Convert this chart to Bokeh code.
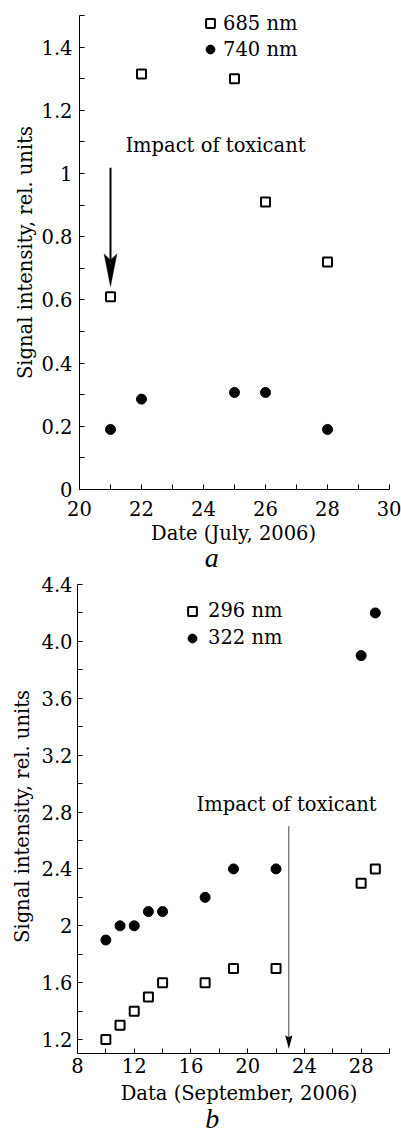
import math
from bokeh.plotting import figure
from bokeh.models import (FixedTicker, CustomJSTickFormatter, Range1d, Legend,
                          LegendItem, Label, Arrow, PolyAnnotation)
from bokeh.layouts import column
from bokeh.embed import file_html
from bokeh.resources import INLINE

# ---------------- data: panel a ----------------
a_days = [21, 22, 25, 26, 28]
a_685 = [0.61, 1.315, 1.30, 0.91, 0.72]
a_740 = [0.19, 0.286, 0.307, 0.307, 0.19]
a_x_ticks = [20, 22, 24, 26, 28, 30]
a_x_labels = ["20", "22", "24", "26", "28", "30"]
a_x_minor = [21, 23, 25, 27, 29]
a_y_ticks = [0, 0.2, 0.4, 0.6, 0.8, 1.0, 1.2, 1.4]
a_y_labels = ["0", "0.2", "0.4", "0.6", "0.8", "1", "1.2", "1.4"]
a_y_minor = [0.1, 0.3, 0.5, 0.7, 0.9, 1.1, 1.3, 1.5]
a_series = ["685 nm", "740 nm"]

# ---------------- data: panel b ----------------
b_days = [10, 11, 12, 13, 14, 17, 19, 22, 28, 29]
b_296 = [1.2, 1.3, 1.4, 1.5, 1.6, 1.6, 1.7, 1.7, 2.3, 2.4]
b_322 = [1.9, 2.0, 2.0, 2.1, 2.1, 2.2, 2.4, 2.4, 3.9, 4.2]
b_x_ticks = [8, 12, 16, 20, 24, 28]
b_x_labels = ["8", "12", "16", "20", "24", "28"]
b_x_minor = [10, 14, 18, 22, 26, 30]
b_y_ticks = [1.2, 1.6, 2.0, 2.4, 2.8, 3.2, 3.6, 4.0, 4.4]
b_y_labels = ["1.2", "1.6", "2", "2.4", "2.8", "3.2", "3.6", "4.0", "4.4"]
b_y_minor = [1.4, 1.8, 2.2, 2.6, 3.0, 3.4, 3.8, 4.2]
b_series = ["296 nm", "322 nm"]

FONT = "DejaVu Serif"
FS = "19.5px"
W = 401


def fmt(ticks, labels):
    return CustomJSTickFormatter(args=dict(t=ticks, l=labels), code="""
        for (let i = 0; i < t.length; i++) {
            if (Math.abs(t[i] - tick) < 1e-6) { return l[i]; }
        }
        return '';
    """)


def span_range(v0, v1, p0, p1, total):
    scale = (p1 - p0) / (v1 - v0)
    return Range1d(v0 - p0 / scale, v1 + (total - p1) / scale)


def make_panel(H, xlim, ylim, xpix, ypix, xt, xl, xm, yt, yl, ym, x_std, y_std):
    p = figure(width=W, height=H, output_backend="svg", toolbar_location=None,
               x_range=span_range(xlim[0], xlim[1], xpix[0], xpix[1], W),
               y_range=span_range(ylim[0], ylim[1], ypix[0], ypix[1], H),
               min_border_left=0, min_border_right=0, min_border_top=0,
               min_border_bottom=0)
    p.xgrid.visible = False
    p.ygrid.visible = False
    p.outline_line_color = None
    p.background_fill_color = "white"
    p.border_fill_color = "white"
    xa, ya = p.xaxis[0], p.yaxis[0]
    xa.fixed_location = ylim[0]
    ya.fixed_location = xlim[0]
    xa.bounds = xlim
    ya.bounds = ylim
    for ax in (xa, ya):
        ax.axis_line_color = "black"
        ax.axis_line_width = 1
        ax.major_tick_in = 5
        ax.major_tick_out = 0
        ax.minor_tick_in = 5
        ax.minor_tick_out = 0
        ax.major_tick_line_color = "black"
        ax.minor_tick_line_color = "black"
        ax.major_label_text_font = FONT
        ax.major_label_text_font_size = FS
        ax.major_label_text_color = "black"
    xa.ticker = FixedTicker(ticks=xt, minor_ticks=xm)
    ya.ticker = FixedTicker(ticks=yt, minor_ticks=ym)
    xa.formatter = fmt(xt, xl)
    ya.formatter = fmt(yt, yl)
    xa.major_label_standoff = x_std
    ya.major_label_standoff = y_std
    return p


def text(p, yscale, x, y, s, size_px=19.5, font=FONT, style="normal", align="left",
         baseline="alphabetic", angle=0, lift_em=0.37):
    # lift alphabetic-baseline labels so the glyph baseline lands on y
    lift = lift_em * size_px / yscale if baseline == "alphabetic" else 0.0
    p.add_layout(Label(x=x, y=y + lift, text=s, text_font=font,
                       text_font_size=f"{size_px}px", text_font_style=style,
                       text_color="black", text_align=align,
                       text_baseline=baseline, angle=angle))


def legend(p, renderers, labels, loc, spacing, standoff):
    leg = Legend(items=[LegendItem(label=lab, renderers=[r]) for lab, r in zip(labels, renderers)],
                 location=loc, padding=0, margin=0, spacing=spacing,
                 glyph_width=22, glyph_height=22, label_standoff=standoff,
                 label_text_font=FONT, label_text_font_size=FS, label_text_color="black",
                 border_line_color=None, background_fill_alpha=0)
    p.add_layout(leg)


# ---------------- panel a ----------------
HA = 572
SA = (489 - 15) / 1.5          # pixels per y unit
pa = make_panel(HA, (20, 30), (0, 1.5), (79, 389), (HA - 489, HA - 15),
                a_x_ticks, a_x_labels, a_x_minor, a_y_ticks, a_y_labels, a_y_minor, 11, 7)

ra1 = pa.scatter(a_days, a_685, marker="square", size=9, fill_color="white",
                 line_color="black", line_width=2)
ra2 = pa.scatter(a_days, a_740, marker="circle", size=10, fill_color="black",
                 line_color="black")
legend(pa, [ra1, ra2], a_series, (199, 511.5), 3, 2)

arr_a_x, arr_a_top, arr_a_head, arr_a_tip = 21, 1.018, 0.746, 0.642
pa.add_layout(Arrow(end=None, x_start=arr_a_x, y_start=arr_a_top, x_end=arr_a_x,
                    y_end=arr_a_head - 0.02, line_width=2, line_color="black"))
pa.add_layout(PolyAnnotation(xs=[arr_a_x - 0.21, arr_a_x, arr_a_x + 0.21, arr_a_x],
                             ys=[arr_a_head, arr_a_tip, arr_a_head, arr_a_head - 0.02],
                             fill_color="black", fill_alpha=1, line_color="black",
                             line_width=1))
text(pa, SA, 21.48, 1.066, "Impact of toxicant")
text(pa, SA, 24.97, -0.161, "Date (July, 2006)", align="center")
text(pa, SA, 18.26, 0.75, "Signal intensity, rel. units", align="center",
     baseline="middle", angle=math.pi / 2)
text(pa, SA, 24.27, -(564.5 - 489) / SA, "a", size_px=28, font="Liberation Serif",
     style="italic", align="center", lift_em=0.265)

# ---------------- panel b ----------------
HB = 562
TOP_B = 572                    # page row where panel b starts
SB = (1053.3 - 584) / 3.3
pb = make_panel(HB, (8, 30), (1.1, 4.4), (77, 389),
                (HB - (1053.3 - TOP_B), HB - (584 - TOP_B)),
                b_x_ticks, b_x_labels, b_x_minor, b_y_ticks, b_y_labels, b_y_minor, 4, 5)

rb1 = pb.scatter(b_days, b_296, marker="square", size=9, fill_color="white",
                 line_color="black", line_width=2)
rb2 = pb.scatter(b_days, b_322, marker="circle", size=10, fill_color="black",
                 line_color="black")
legend(pb, [rb1, rb2], b_series, (181, 485), 4, 5)

arr_b_x, arr_b_top, arr_b_head, arr_b_tip = 22.9, 2.70, 1.229, 1.137
pb.add_layout(Arrow(end=None, x_start=arr_b_x, y_start=arr_b_top, x_end=arr_b_x,
                    y_end=arr_b_head - 0.01, line_width=1, line_color="#444444"))
pb.add_layout(PolyAnnotation(xs=[arr_b_x - 0.25, arr_b_x, arr_b_x + 0.25, arr_b_x],
                             ys=[arr_b_head, arr_b_tip, arr_b_head, arr_b_head - 0.012],
                             fill_color="black", fill_alpha=1, line_color="black",
                             line_width=0.5))
text(pb, SB, 16.39, 2.80, "Impact of toxicant")
text(pb, SB, 19.39, 0.77, "Data (September, 2006)", align="center")
text(pb, SB, 4.12, 2.769, "Signal intensity, rel. units", align="center",
     baseline="middle", angle=math.pi / 2)
text(pb, SB, 17.5, 1.1 - (1125 - 1053.3) / SB, "b", size_px=28, font="Liberation Serif",
     style="italic", align="center", lift_em=0.265)

layout = column(pa, pb, spacing=0)
open("out.html", "w").write(file_html(layout, INLINE))
